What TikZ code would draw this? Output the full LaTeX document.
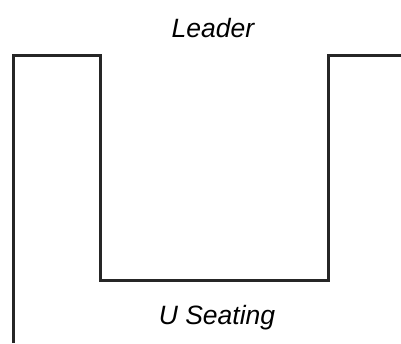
\documentclass[tikz,border=0pt]{standalone}
\usepackage{fontspec}
\setmainfont{Liberation Sans}
\usetikzlibrary{positioning}
\tikzset{
  wall/.style={line width=3pt, draw={black!85}, line join=miter},
  lbl/.style={font=\fontsize{26.5}{30}\selectfont\itshape, inner sep=0pt}
}

\begin{document}
\begin{tikzpicture}[x=1pt,y=1pt]
\useasboundingbox (0,0) rectangle (401,343);
% the U shaped table outline
\draw[wall] (13.5,0) -- (13.5,287) -- (100.5,287) -- (100.5,62.5)
  -- (328.5,62.5) -- (328.5,287) -- (402,287);
\node[lbl] (leader) at (213,315) {Leader};
\node[lbl] (seating) at (217,25) {U Seating};
\end{tikzpicture}
\end{document}
